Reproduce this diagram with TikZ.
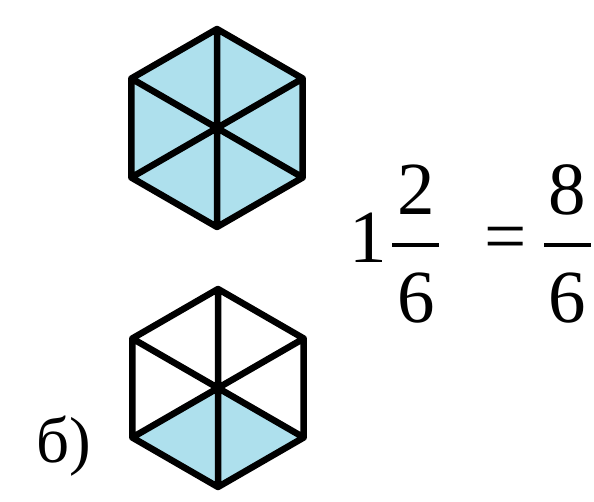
\documentclass[tikz,border=0pt]{standalone}
\usepackage{fontspec}
\setmainfont{Liberation Serif}
\usetikzlibrary{calc}
\definecolor{hexblue}{RGB}{174,224,237}
\tikzset{
  hexline/.style={line width=6.5pt,line join=round,line cap=round},
  digit/.style={inner sep=0pt,anchor=base,font=\fontsize{75}{75}\selectfont},
  fracbar/.style={line width=4.5pt},
}

\begin{document}
\begin{tikzpicture}[x=1pt,y=-1pt]
  \useasboundingbox[fill=white] (0,0) rectangle (594,502);
  \def\R{99}
  \coordinate (Oa) at (217,128);
  \coordinate (Ob) at (218,388);
  \foreach \k in {1,...,6}{
    \coordinate (A\k) at ($(Oa)+(-30+60*\k:\R)$);
    \coordinate (B\k) at ($(Ob)+(-30+60*\k:\R)$);
  }

  % SHADED PARTS
  \fill[hexblue] (A1)--(A2)--(A3)--(A4)--(A5)--(A6)--cycle;
  \fill[hexblue] (Ob)--(B1)--(B2)--(B3)--cycle;

  % HEXAGONS
  \draw[hexline] (A1)--(A2)--(A3)--(A4)--(A5)--(A6)--cycle
                 (A1)--(A4) (A2)--(A5) (A3)--(A6);
  \draw[hexline] (B1)--(B2)--(B3)--(B4)--(B5)--(B6)--cycle
                 (B1)--(B4) (B2)--(B5) (B3)--(B6);

  \node[inner sep=0pt,anchor=base west,font=\fontsize{65}{65}\selectfont]
    (lab) at (36,462) {б)};

  % EQUATION
  \node[digit] (one)  at (368,263) {1};
  \node[digit] (numa) at (416,215) {2};
  \node[digit] (dena) at (416,323) {6};
  \node[digit,anchor=center] (eq) at (506,244) {=};
  \node[digit] (numb) at (567,215) {8};
  \node[digit] (denb) at (567,323) {6};
  \draw[fracbar] (392,245) -- (439,245);
  \draw[fracbar] (544,245) -- (591,245);
\end{tikzpicture}
\end{document}
